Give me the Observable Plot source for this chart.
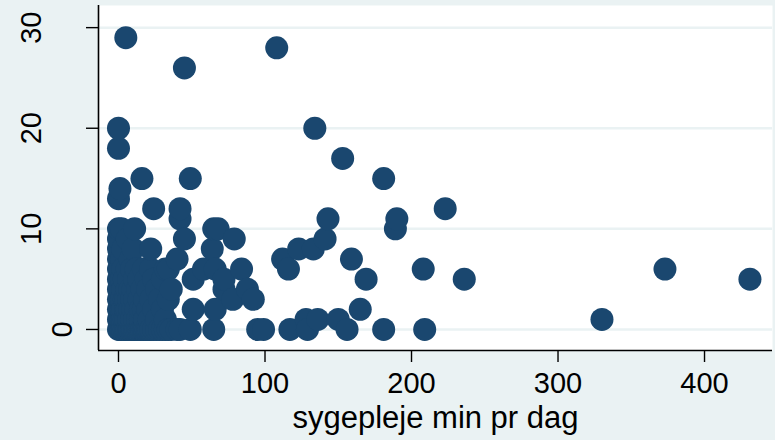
<!DOCTYPE html>
<html>
<head>
<meta charset="utf-8">
<script src="https://cdn.jsdelivr.net/npm/d3@7"></script>
<script src="https://cdn.jsdelivr.net/npm/@observablehq/plot@0.6"></script>
<style>
  html, body { margin: 0; padding: 0; background: #eaf2f3; }
  #chart { width: 775px; height: 440px; overflow: hidden; }
</style>
</head>
<body>
<div id="chart"></div>
<script>
// x: sygepleje min pr dag
const sygeplejeMin = [
  0,0,0,0,0,0,0,0,0,0,0,0,0,0,
  1,1,1,1,1,1,1,1,
  2,2,2,2,2,2,2,
  3,3,3,3,3,3,
  4,4,4,4,
  5,5,5,5,5,
  6,6,6,6,6,
  7,7,7,7,
  8,8,8,8,
  9,9,9,9,
  10,10,10,10,
  11,11,11,11,11,
  12,12,12,
  13,13,13,
  14,14,14,
  15,15,15,
  16,16,16,
  17,17,17,
  18,18,18,
  19,19,
  20,20,20,
  21,21,
  22,22,22,22,
  24,24,24,24,
  26,26,26,
  28,28,
  30,30,30,
  32,32,32,
  34,34,34,
  36,36,
  40,40,
  42,42,42,
  45,45,
  49,49,
  51,51,
  58,64,65,65,66,66,68,72,72,78,79,84,88,92,95,99,
  108,112,116,117,123,128,129,133,134,136,141,143,150,153,156,159,165,169,181,181,189,190,208,209,223,236,330,373,431
];
// y values
const score = [
  0,1,2,3,4,5,6,7,8,9,10,13,18,20,
  0,1,2,3,4,5,6,14,
  0,1,2,3,5,7,10,
  0,1,2,4,6,8,
  0,1,3,5,
  0,1,2,3,29,
  0,2,4,6,9,
  0,1,3,5,
  0,2,4,7,
  0,1,3,6,
  0,2,4,8,
  0,1,3,5,10,
  0,2,6,
  0,1,4,
  0,3,5,
  0,1,2,
  0,4,15,
  0,2,6,
  0,1,3,
  0,5,
  0,2,4,
  0,1,
  0,3,6,8,
  0,2,5,12,
  0,1,4,
  0,3,
  0,2,5,
  0,1,6,
  0,3,6,
  0,4,
  0,7,
  0,11,12,
  9,26,
  0,15,
  2,5,
  6,8,0,10,2,6,10,4,5,3,9,6,4,3,0,0,
  28,7,6,0,8,1,0,8,20,1,9,11,1,17,0,7,2,5,15,0,10,11,6,0,12,5,1,6,5
];
const xTicks = [0, 100, 200, 300, 400];
const yTicks = [0, 10, 20, 30];
const xTitle = "sygepleje min pr dag";

const points = sygeplejeMin.map((x, i) => ({x, y: score[i]}));
const xDomain = [-13.65, 446.4];
const yDomain = [-2.09, 32.2];
const navy = "#1a476f";
const bg = "#eaf2f3";

const chart = Plot.plot({
  width: 775,
  height: 440,
  marginLeft: 98,
  marginRight: 3,
  marginTop: 5,
  marginBottom: 90,
  x: {domain: xDomain},
  y: {domain: yDomain},
  style: {background: bg, fontFamily: "'Liberation Sans', Arial, sans-serif", color: "#000"},
  marks: [
    Plot.frame({fill: "white", stroke: null}),
    Plot.gridY(yTicks, {stroke: bg, strokeOpacity: 1, strokeWidth: 2.5}),
    Plot.dot(points, {x: "x", y: "y", r: 11.5, fill: navy, stroke: null}),
    Plot.ruleX([xDomain[0]], {stroke: "#000", strokeWidth: 1.6}),
    Plot.ruleY([yDomain[0]], {stroke: "#000", strokeWidth: 1.6}),
    Plot.axisX(xTicks, {tickSize: 12, tickPadding: 10, fontSize: 29, label: null, strokeWidth: 1.4}),
    Plot.axisY(yTicks, {tickSize: 12, tickFormat: () => "", label: null, strokeWidth: 1.4}),
    Plot.text(yTicks.filter(d => String(d).length > 1), {
      y: d => d, text: d => String(d), frameAnchor: "left", rotate: -90,
      fontSize: 29, dx: -66.5, textAnchor: "middle", lineAnchor: "middle"
    }),
    Plot.text(yTicks.filter(d => String(d).length === 1), {
      y: d => d, text: d => String(d), frameAnchor: "left", rotate: -90,
      fontSize: 29, dx: -36, textAnchor: "middle", lineAnchor: "middle"
    }),
    Plot.text([xTitle], {
      text: d => d, frameAnchor: "bottom", dy: 68, fontSize: 31,
      textAnchor: "middle", lineAnchor: "middle"
    })
  ]
});
document.getElementById("chart").appendChild(chart);
</script>
</body>
</html>
